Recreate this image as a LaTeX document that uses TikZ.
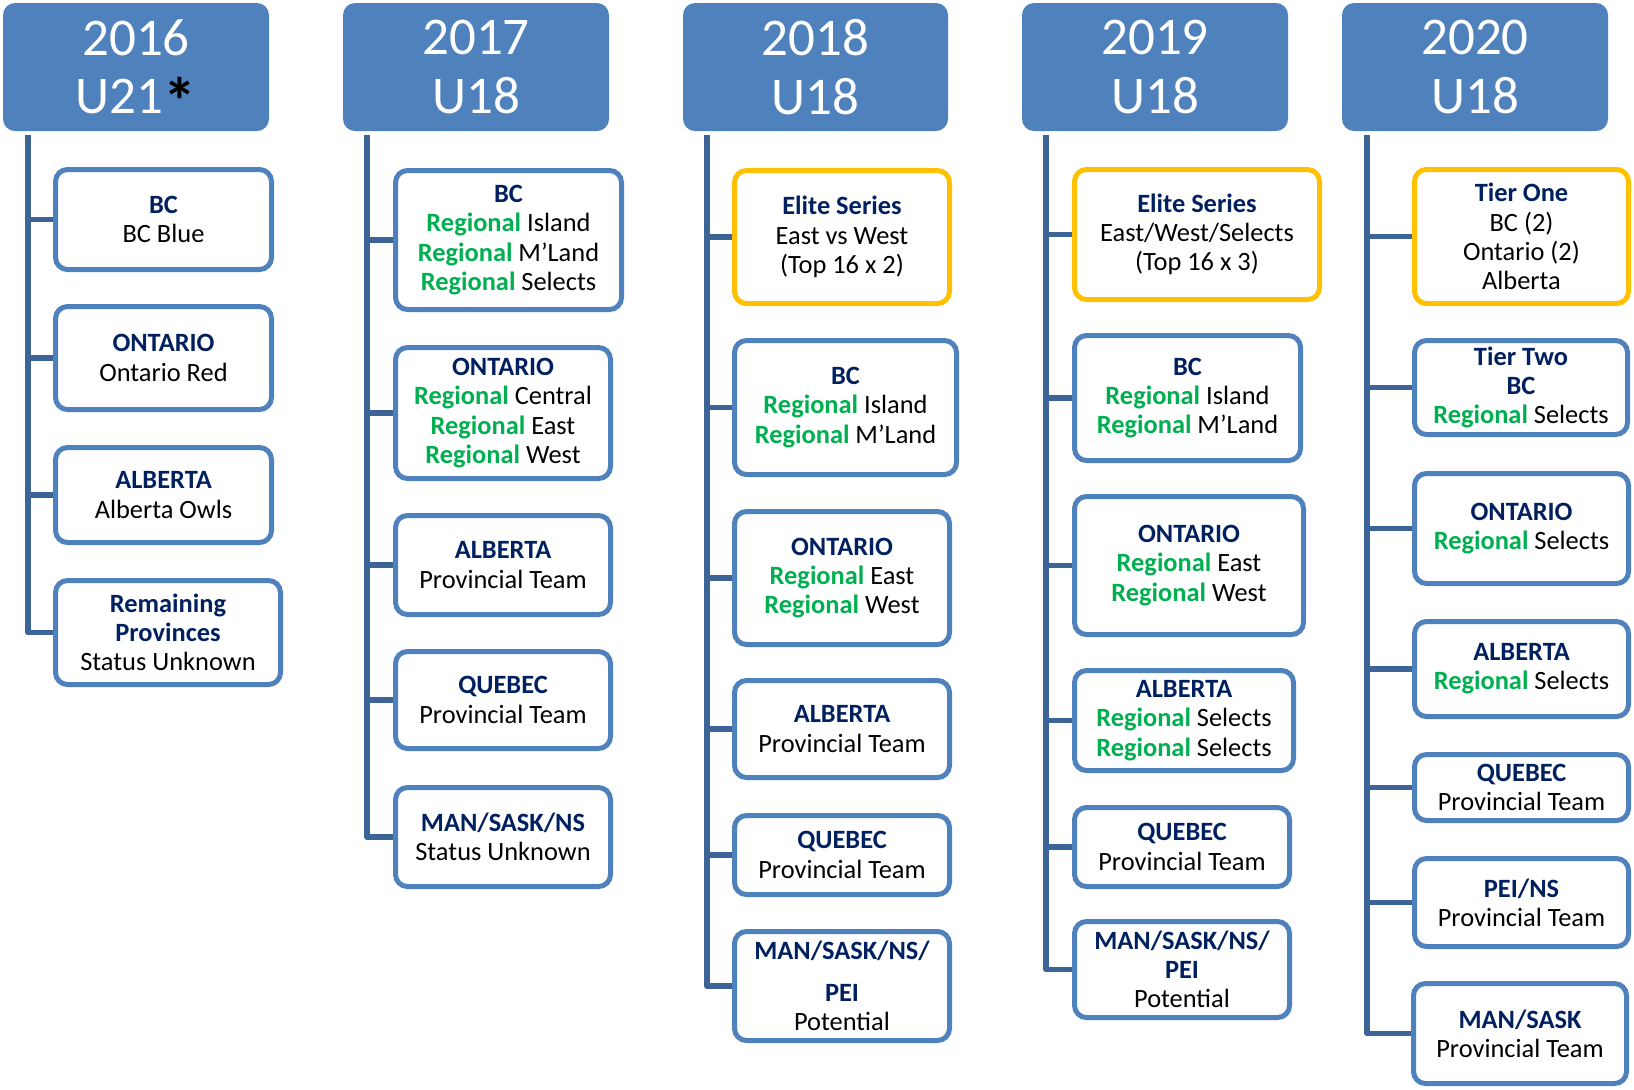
\documentclass[tikz,border=0pt]{standalone}
\usepackage{fontspec}
\setmainfont{Carlito}
\usetikzlibrary{calc}

\definecolor{hdrblue}{HTML}{4F81BD}
\definecolor{cardblue}{HTML}{4F81BD}
\definecolor{spineblue}{HTML}{3C6496}
\definecolor{gold}{HTML}{FFC000}
\definecolor{navy}{HTML}{002060}
\definecolor{regreen}{HTML}{00B050}

% bold navy heading line and green "Regional" label
\newcommand\prov[1]{{\bfseries\color{navy}#1}}
\newcommand\regl{{\bfseries\color{regreen}Regional}}
% large black asterisk after the age group
\newcommand\astmark{\smash{\color{black}\bfseries\fontsize{33}{33}\selectfont\raisebox{-5.5pt}{*}}}

% card from its outer edges: name, x1, y1, x2, y2, style, text
\newcommand\mkcard[7]{%
  \pgfmathsetmacro\cw{(#4-#2-5)*0.5}%
  \pgfmathsetmacro\ch{(#5-#3-5)*0.5}%
  \node[#6, minimum width=\cw pt, minimum height=\ch pt] (#1) at ({(#2+#4)/2},{(#3+#5)/2}) {#7};}

% year header: name, x1, x2, text
\newcommand\mkhead[4]{%
  \pgfmathsetmacro\cw{(#3-#2)*0.5}%
  \node[hdr, minimum width=\cw pt, minimum height=64pt] (#1) at ({(#2+#3)/2},67) {#4};}

\tikzset{
  hdr/.style={fill=hdrblue, rounded corners=6pt, text=white, align=center,
    inner sep=0pt, font=\fontsize{26.5}{29.2}\selectfont},
  card/.style={draw=cardblue, line width=2.5pt, fill=white, rounded corners=6pt,
    align=center, inner sep=0pt, font=\fontsize{13.2}{14.6}\selectfont},
  goldcard/.style={card, draw=gold},
  spine/.style={draw=spineblue, line width=2.8pt, line join=round}
}

\begin{document}
\begin{tikzpicture}[x=0.5pt, y=-0.5pt]
\useasboundingbox (0,0) rectangle (1634,1089);

% ---- headers
\mkhead{h1}{3}{269}{2016\\U21\astmark}
\mkhead{h2}{343}{609}{2017\\U18}
\mkhead{h3}{683}{948}{2018\\U18}
\mkhead{h4}{1022}{1288}{2019\\U18}
\mkhead{h5}{1342}{1608}{2020\\U18}

% ---- 2016
\mkcard{c1a}{53}{167}{274}{272}{card}{\prov{BC}\\BC Blue}
\mkcard{c1b}{53}{304}{274}{412}{card}{\prov{ONTARIO}\\Ontario Red}
\mkcard{c1c}{53}{445}{274}{545}{card}{\prov{ALBERTA}\\Alberta Owls}
\mkcard{c1d}{53}{578}{283}{687}{card}{\prov{Remaining}\\\prov{Provinces}\\Status Unknown}

% ---- 2017
\mkcard{c2a}{393}{168}{624}{312}{card}{\prov{BC}\\\regl{} Island\\\regl{} M’Land\\\regl{} Selects}
\mkcard{c2b}{393}{345}{613}{481}{card}{\prov{ONTARIO}\\\regl{} Central\\\regl{} East\\\regl{} West}
\mkcard{c2c}{393}{513}{613}{617}{card}{\prov{ALBERTA}\\Provincial Team}
\mkcard{c2d}{393}{649}{613}{751}{card}{\prov{QUEBEC}\\Provincial Team}
\mkcard{c2e}{393}{785}{613}{889}{card}{\prov{MAN/SASK/NS}\\Status Unknown}

% ---- 2018
\mkcard{c3a}{732}{168}{952}{306}{goldcard}{\prov{Elite Series}\\East vs West\\(Top 16 x 2)}
\mkcard{c3b}{732}{338}{959}{477}{card}{\prov{BC}\\\regl{} Island\\\regl{} M’Land}
\mkcard{c3c}{732}{509}{952}{647}{card}{\prov{ONTARIO}\\\regl{} East\\\regl{} West}
\mkcard{c3d}{732}{678}{952}{780}{card}{\prov{ALBERTA}\\Provincial Team}
\mkcard{c3e}{732}{813}{952}{897}{card}{\prov{QUEBEC}\\Provincial Team}
\mkcard{c3f}{732}{929}{952}{1043}{card}{\prov{MAN/SASK/NS/}\\[6pt]\prov{PEI}\\Potential}

% ---- 2019
\mkcard{c4a}{1072}{167}{1322}{302}{goldcard}{\prov{Elite Series}\\East/West/Selects\\(Top 16 x 3)}
\mkcard{c4b}{1072}{333}{1303}{463}{card}{\prov{BC}\\\regl{} Island\\\regl{} M’Land}
\mkcard{c4c}{1072}{494}{1306}{637}{card}{\prov{ONTARIO}\\\regl{} East\\\regl{} West}
\mkcard{c4d}{1072}{668}{1296}{773}{card}{\prov{ALBERTA}\\\regl{} Selects\\\regl{} Selects}
\mkcard{c4e}{1072}{805}{1292}{889}{card}{\prov{QUEBEC}\\Provincial Team}
\mkcard{c4f}{1072}{919}{1292}{1020}{card}{\prov{MAN/SASK/NS/}\\\prov{PEI}\\Potential}

% ---- 2020
\mkcard{c5a}{1412}{167}{1631}{306}{goldcard}{\prov{Tier One}\\BC (2)\\Ontario (2)\\Alberta}
\mkcard{c5b}{1412}{338}{1630}{437}{card}{\prov{Tier Two}\\\prov{BC}\\\regl{} Selects}
\mkcard{c5c}{1412}{471}{1631}{586}{card}{\prov{ONTARIO}\\\regl{} Selects}
\mkcard{c5d}{1412}{619}{1631}{719}{card}{\prov{ALBERTA}\\\regl{} Selects}
\mkcard{c5e}{1412}{752}{1631}{823}{card}{\prov{QUEBEC}\\Provincial Team}
\mkcard{c5f}{1412}{856}{1631}{949}{card}{\prov{PEI/NS}\\Provincial Team}
\mkcard{c5g}{1411}{981}{1629}{1086}{card}{\prov{MAN/SASK}\\Provincial Team}

% ---- spines and branches
\coordinate (t1) at (28,135);
\coordinate (t2) at (367,135);
\coordinate (t3) at (707,135);
\coordinate (t4) at (1046,135);
\coordinate (t5) at (1367,135);

\draw[spine] (t1) |- (c1d.west);
\foreach \c in {c1a,c1b,c1c} \draw[spine] (t1 |- \c.west) -- (\c.west);

\draw[spine] (t2) |- (c2e.west);
\foreach \c in {c2a,c2b,c2c,c2d} \draw[spine] (t2 |- \c.west) -- (\c.west);

\draw[spine] (t3) |- (c3f.west);
\foreach \c in {c3a,c3b,c3c,c3d,c3e} \draw[spine] (t3 |- \c.west) -- (\c.west);

\draw[spine] (t4) |- (c4f.west);
\foreach \c in {c4a,c4b,c4c,c4d,c4e} \draw[spine] (t4 |- \c.west) -- (\c.west);

\draw[spine] (t5) |- (c5g.west);
\foreach \c in {c5a,c5b,c5c,c5d,c5e,c5f} \draw[spine] (t5 |- \c.west) -- (\c.west);
\end{tikzpicture}
\end{document}
